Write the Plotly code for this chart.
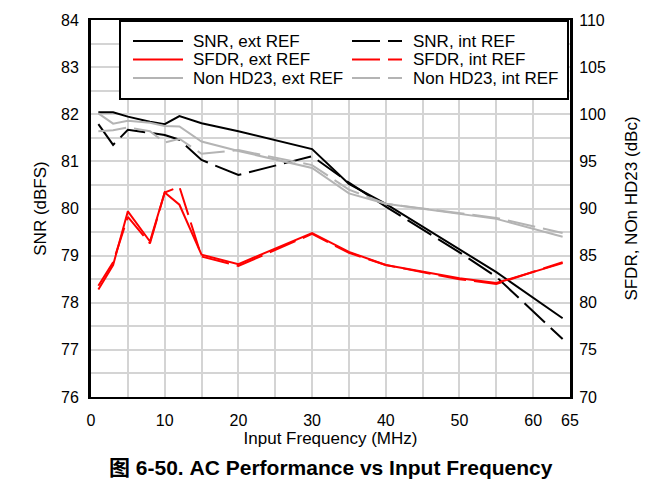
import plotly.graph_objects as go

freq = [1, 3, 5, 8, 10, 12, 15, 20, 30, 35, 40, 50, 55, 64]
snr_ext = [82.04, 82.04, 81.95, 81.84, 81.79, 81.96, 81.81, 81.64, 81.26, 80.52, 80.10, 79.13, 78.65, 77.67]
snr_int = [81.79, 81.35, 81.67, 81.60, 81.56, 81.46, 81.03, 80.71, 81.11, 80.55, 80.04, 79.07, 78.55, 77.23]
sfdr_ext = [81.4, 84.0, 89.7, 86.5, 91.7, 90.4, 85.1, 84.1, 87.4, 85.4, 84.0, 82.6, 82.1, 84.2]
sfdr_int = [81.8, 84.3, 89.1, 86.3, 91.7, 92.3, 84.9, 83.9, 87.3, 85.3, 84.0, 82.5, 82.0, 84.3]
nonhd_ext = [100.1, 99.0, 99.3, 99.1, 98.75, 98.7, 97.1, 96.1, 94.3, 91.6, 90.5, 89.4, 88.9, 87.0]
nonhd_int = [98.2, 98.3, 98.6, 98.2, 97.0, 97.4, 95.8, 96.2, 94.6, 92.0, 90.5, 89.5, 89.0, 87.4]

x_ticks = [0, 10, 20, 30, 40, 50, 60, 65]
left_ticks = [76, 77, 78, 79, 80, 81, 82, 83, 84]
right_ticks = [70, 75, 80, 85, 90, 95, 100, 105, 110]

FONT = "Liberation Sans, Arial, Noto Sans CJK SC, sans-serif"
BLACK = "#000000"
RED = "#ff0000"
GRAY = "#b4b4b4"
DASH = "28px,8px"

series = [
    ("SNR, ext REF", snr_ext, BLACK, "solid", "y"),
    ("SNR, int REF", snr_int, BLACK, DASH, "y"),
    ("SFDR, ext REF", sfdr_ext, RED, "solid", "y2"),
    ("SFDR, int REF", sfdr_int, RED, DASH, "y2"),
    ("Non HD23, ext REF", nonhd_ext, GRAY, "solid", "y2"),
    ("Non HD23, int REF", nonhd_int, GRAY, DASH, "y2"),
]

fig = go.Figure()
# draw order: gray first, then red, then black on top
for idx in [4, 5, 2, 3, 0, 1]:
    name, vals, col, dash, ax = series[idx]
    fig.add_trace(go.Scatter(x=freq, y=vals, name=name, mode="lines", yaxis=ax,
                             showlegend=False,
                             line=dict(color=col, width=2, dash=dash)))

# ---- plot-area geometry (window pixels) used for the boxed legend ----
PL, PR, PT, PB = 91.0, 570.0, 20.0, 397.0
def px(X):
    return (X - PL) / (PR - PL)
def py(Y):
    return 1 - (Y - PT) / (PB - PT)

shapes = [dict(type="rect", xref="paper", yref="paper", layer="above",
               x0=px(120), x1=px(568), y0=py(99), y1=py(21),
               fillcolor="white", line=dict(color="black", width=2))]
annotations = []
row_y = [41, 59.5, 78]
col_line = [(133, 183, 191), (352, 402, 411)]
for i, (name, vals, col, dash, ax) in enumerate(series):
    r, c = i // 2, i % 2
    x0, x1, xt = col_line[c]
    shapes.append(dict(type="line", xref="paper", yref="paper", layer="above",
                       x0=px(x0), x1=px(x1), y0=py(row_y[r]), y1=py(row_y[r]),
                       line=dict(color=col, width=2, dash=dash)))
    annotations.append(dict(text=name, xref="paper", yref="paper", x=px(xt), y=py(row_y[r]),
                            xanchor="left", yanchor="middle", showarrow=False,
                            font=dict(size=17, family=FONT, color="black")))

annotations.append(dict(text="<b>图 6-50. AC Performance vs Input Frequency</b>",
                        xref="paper", yref="paper", x=0.5, y=-0.186, xanchor="center",
                        yanchor="middle", showarrow=False, font=dict(size=21, family=FONT)))

grid = "#d4d4d4"
fig.update_layout(
    width=662, height=493,
    margin=dict(l=83, r=100, t=12, b=104, autoexpand=False),
    paper_bgcolor="white", plot_bgcolor="white",
    font=dict(family=FONT, size=16, color="black"),
    showlegend=False,
    shapes=shapes, annotations=annotations,
    xaxis=dict(range=[0, 65], tickvals=x_ticks, showgrid=True, gridcolor=grid, gridwidth=1.5,
               minor=dict(dtick=5, tick0=0, showgrid=True, gridcolor=grid, gridwidth=1.5),
               showline=True, linecolor="black", linewidth=2, mirror=True,
               ticks="outside", ticklen=8, tickcolor="rgba(0,0,0,0)", automargin=False,
               zeroline=False, tickfont=dict(size=16),
               title=dict(text="Input Frequency (MHz)", standoff=2, font=dict(size=17))),
    yaxis=dict(range=[76, 84], tickvals=left_ticks, showgrid=True, gridcolor=grid, gridwidth=1.5,
               minor=dict(dtick=0.5, tick0=76, showgrid=True, gridcolor=grid, gridwidth=1.5),
               showline=True, linecolor="black", linewidth=3, mirror=True, automargin=False,
               ticks="outside", ticklen=6, tickcolor="rgba(0,0,0,0)", zeroline=False,
               tickfont=dict(size=16),
               title=dict(text="SNR (dBFS)", standoff=11, font=dict(size=17))),
    yaxis2=dict(range=[70, 110], tickvals=right_ticks, overlaying="y", side="right",
                showgrid=False, showline=True, linecolor="black", linewidth=2, automargin=False,
                ticks="outside", ticklen=4, tickcolor="rgba(0,0,0,0)", zeroline=False,
                tickfont=dict(size=16),
                title=dict(text="SFDR, NOn HD23 (dBc)", standoff=20, font=dict(size=17))),
)

fig.write_html("out.html")
